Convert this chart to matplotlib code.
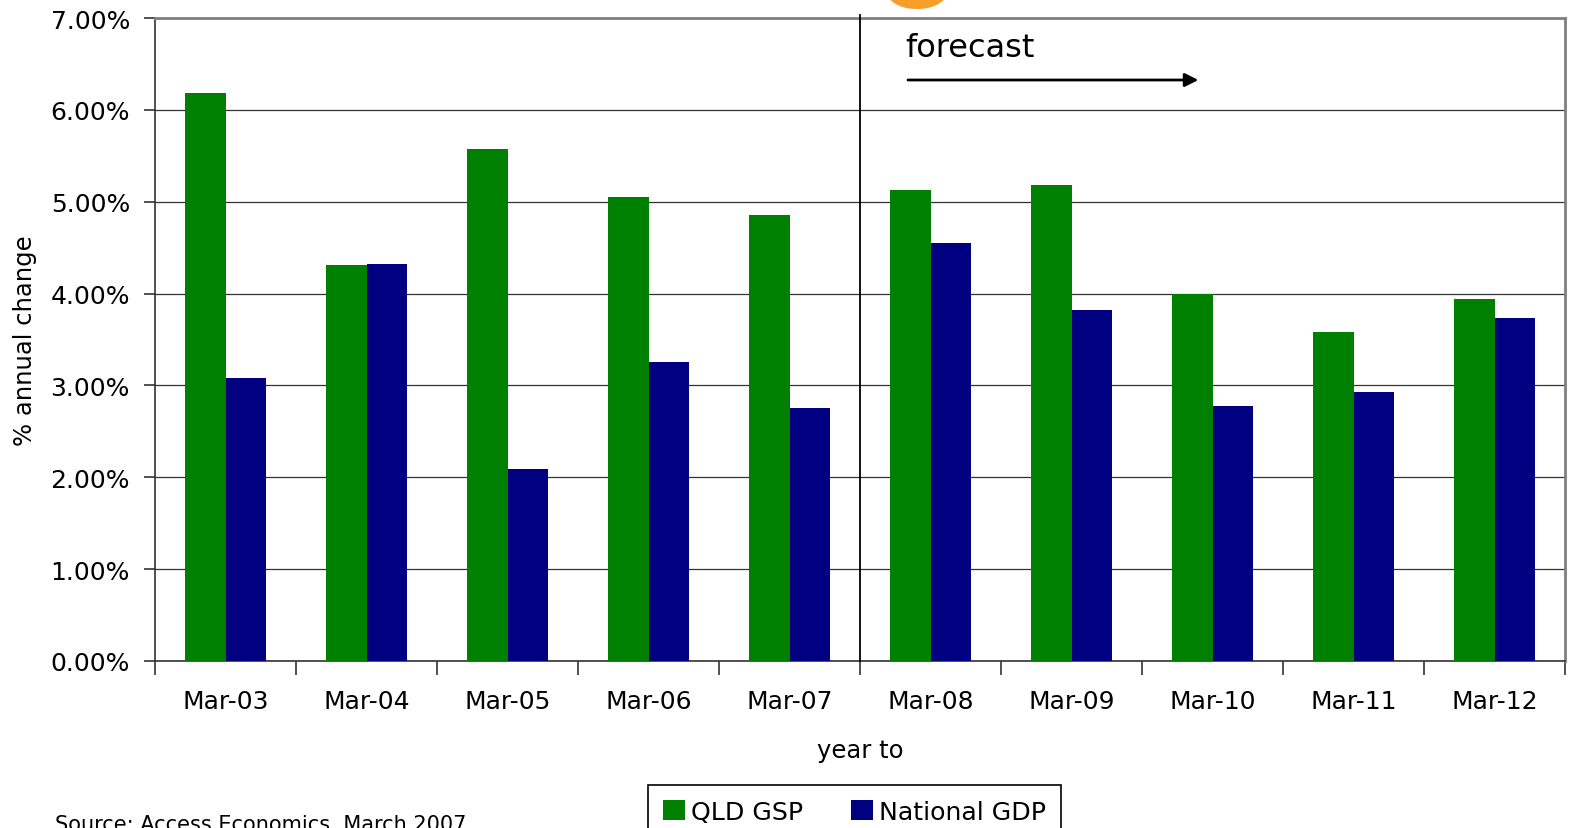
import numpy as np
import matplotlib
matplotlib.use('Agg')
import matplotlib.pyplot as plt
from matplotlib.ticker import FixedLocator, FuncFormatter

# ── Data: annual growth, year to March ─────────────────────────────────────
years = ['Mar-03', 'Mar-04', 'Mar-05', 'Mar-06', 'Mar-07',
         'Mar-08', 'Mar-09', 'Mar-10', 'Mar-11', 'Mar-12']
qld_gsp = [6.18, 4.31, 5.57, 5.05, 4.86, 5.13, 5.18, 4.00, 3.58, 3.94]
national_gdp = [3.08, 4.32, 2.09, 3.25, 2.75, 4.55, 3.82, 2.78, 2.93, 3.73]
forecast_start = 5   # boundary between Mar-07 and Mar-08

GREEN = '#008000'
NAVY = '#000080'

plt.rcParams['font.family'] = 'DejaVu Sans'

fig = plt.figure(figsize=(15.75, 8.29), dpi=100, facecolor='white')
ax = fig.add_axes([155 / 1575, 1 - 662 / 829, 1410 / 1575, 643 / 829])

x = np.arange(len(years)) + 0.5
w = 0.29
ax.bar(x - w / 2, qld_gsp, width=w, color=GREEN, label='QLD GSP', zorder=3)
ax.bar(x + w / 2, national_gdp, width=w, color=NAVY, label='National GDP', zorder=3)

ax.set_xlim(0, len(years))
ax.set_ylim(0, 7)

# y axis
ax.set_yticks(np.arange(0, 8, 1))
ax.yaxis.set_major_formatter(FuncFormatter(lambda v, _: f'{v:.2f}%'))
ax.tick_params(axis='y', direction='out', length=8, width=1.2,
               labelsize=18, pad=10, color='#333333')
ax.grid(axis='y', color='#333333', lw=0.9, zorder=1)

# x axis: labels at centres, tick marks at category boundaries
ax.set_xticks(x)
ax.set_xticklabels(years)
ax.tick_params(axis='x', which='major', length=0, labelsize=18, pad=20)
ax.xaxis.set_minor_locator(FixedLocator(np.arange(0, len(years) + 1)))
ax.tick_params(axis='x', which='minor', direction='out', length=10,
               width=1.2, color='#333333')

for side in ('top', 'right'):
    ax.spines[side].set_color('#808080')
    ax.spines[side].set_linewidth(2)
for side in ('left', 'bottom'):
    ax.spines[side].set_color('#333333')
    ax.spines[side].set_linewidth(1.2)

ax.set_ylabel('% annual change', fontsize=17.5, labelpad=10)
ax.set_xlabel('year to', fontsize=17.5, labelpad=18)

# forecast marker
ax.axvline(forecast_start, color='black', lw=1.3, zorder=4, clip_on=False,
           ymax=1.005)
ax.text(5.32, 6.68, 'forecast', fontsize=23, va='center', ha='left')
ax.annotate('', xy=(7.40, 6.325), xytext=(5.34, 6.325),
            arrowprops=dict(arrowstyle='-|>', color='black', lw=2,
                            mutation_scale=20, shrinkA=0, shrinkB=0))

# legend box below the axes
fig.legend(loc='upper left', bbox_to_anchor=(648 / 1575, 1 - 786 / 829),
           ncol=2, fontsize=18.2, frameon=True, fancybox=False,
           edgecolor='black', framealpha=1, handlelength=0.85,
           handleheight=0.85, handletextpad=0.25, columnspacing=1.9,
           borderpad=0.6, borderaxespad=0)
fig.legends[0].get_frame().set_linewidth(1.2)

fig.text(55 / 1575, 1 - 831 / 829, 'Source: Access Economics, March 2007',
         fontsize=15, va='baseline', ha='left')

# bottom of the orange heading above the chart
fig.text(917 / 1575, 1 - 7 / 829, 'o', color='#F99D2A', fontsize=88,
         fontweight='bold', ha='center', va='baseline')

fig.savefig('out.png', dpi=100, facecolor='white')
